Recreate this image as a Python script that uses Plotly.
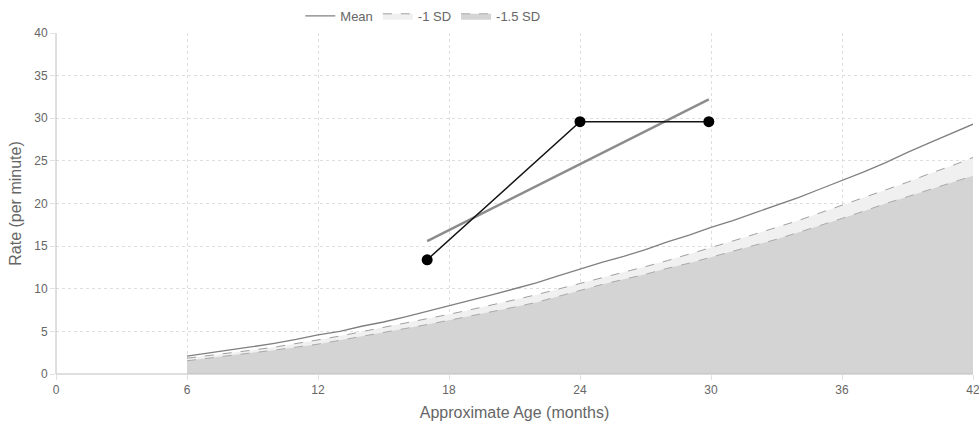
import plotly.graph_objects as go

ages = list(range(6, 43))
mean_vals = [2.1, 2.45, 2.8, 3.2, 3.6, 4.05, 4.6, 5.0, 5.6, 6.1, 6.7, 7.35, 8.0, 8.6, 9.3, 10.0,
             10.7, 11.5, 12.3, 13.1, 13.8, 14.6, 15.5, 16.3, 17.2, 18.0, 18.9, 19.8, 20.7, 21.7,
             22.7, 23.7, 24.8, 26.0, 27.1, 28.2, 29.3]
sd1_vals = [1.85, 2.15, 2.45, 2.8, 3.15, 3.55, 4.0, 4.45, 4.95, 5.45, 5.95, 6.5, 7.0, 7.55, 8.1,
            8.7, 9.3, 9.95, 10.6, 11.3, 11.9, 12.6, 13.3, 14.05, 14.85, 15.6, 16.4, 17.2, 18.0,
            18.9, 19.8, 20.7, 21.6, 22.5, 23.5, 24.4, 25.4]
sd15_vals = [1.55, 1.85, 2.15, 2.45, 2.8, 3.15, 3.5, 3.95, 4.4, 4.85, 5.3, 5.8, 6.3, 6.8, 7.3,
             7.85, 8.4, 9.1, 9.85, 10.5, 11.1, 11.7, 12.4, 13.0, 13.7, 14.4, 15.1, 15.8, 16.6,
             17.4, 18.25, 19.1, 20.0, 20.8, 21.6, 22.4, 23.25]

obs_x = [17, 24, 29.9]
obs_y = [13.4, 29.6, 29.6]
trend_x = [17, 29.9]
trend_y = [15.6, 32.2]

x_ticks = [0, 6, 12, 18, 24, 30, 36, 42]
y_ticks = [0, 5, 10, 15, 20, 25, 30, 35, 40]

font_family = "Liberation Sans, Arial, sans-serif"

fig = go.Figure()
fig.add_trace(go.Scatter(
    x=ages, y=sd1_vals, name="-1 SD", mode="lines", fill="tozeroy",
    fillcolor="rgb(240,240,240)", line=dict(color="rgb(160,160,160)", width=1, dash="dash"),
    legendrank=2, hoverinfo="skip"))
fig.add_trace(go.Scatter(
    x=ages, y=sd15_vals, name="-1.5 SD", mode="lines", fill="tozeroy",
    fillcolor="rgb(212,212,212)", line=dict(color="rgb(170,170,170)", width=1, dash="dash"),
    legendrank=3, hoverinfo="skip"))
fig.add_trace(go.Scatter(
    x=ages, y=mean_vals, name="Mean", mode="lines",
    line=dict(color="rgb(128,128,128)", width=1.3), legendrank=1))
fig.add_trace(go.Scatter(
    x=trend_x, y=trend_y, mode="lines", showlegend=False,
    line=dict(color="rgb(140,140,140)", width=2.5)))
fig.add_trace(go.Scatter(
    x=obs_x, y=obs_y, mode="lines+markers", showlegend=False,
    line=dict(color="rgb(20,20,20)", width=1.5),
    marker=dict(color="black", size=11)))

axis_common = dict(
    showgrid=True, gridcolor="rgb(222,222,222)", griddash="dot", gridwidth=1,
    zeroline=False, showline=False,
    tickfont=dict(family=font_family, size=12, color="#666"),
    ticks="outside", ticklen=5, tickcolor="rgb(225,225,225)",
    ticklabeloverflow="allow",
)

fig.update_xaxes(range=[0, 42], tickvals=x_ticks, automargin=False, **axis_common,
                 title=dict(text="Approximate Age (months)",
                            font=dict(family=font_family, size=16, color="#666"), standoff=10))
fig.update_yaxes(range=[0, 40], tickvals=y_ticks, automargin=False, **axis_common,
                 title=dict(text="Rate (per minute)",
                            font=dict(family=font_family, size=16, color="#666"), standoff=8))

fig.add_shape(type="line", xref="paper", yref="paper", x0=0, x1=1, y0=0, y1=0,
              line=dict(color="rgb(190,190,190)", width=1))
fig.add_shape(type="line", xref="paper", yref="paper", x0=0, x1=0, y0=0, y1=1,
              line=dict(color="rgb(190,190,190)", width=1))

fig.update_layout(
    width=979, height=428,
    margin=dict(l=56, r=6, t=33, b=54, autoexpand=False),
    paper_bgcolor="white", plot_bgcolor="white",
    font=dict(family=font_family, color="#666"),
    legend=dict(orientation="h", x=0.4, xanchor="center", yref="container",
                y=0.998, yanchor="top",
                font=dict(family=font_family, size=13, color="#666"),
                traceorder="normal"),
    showlegend=True,
)

fig.write_html("out.html")
